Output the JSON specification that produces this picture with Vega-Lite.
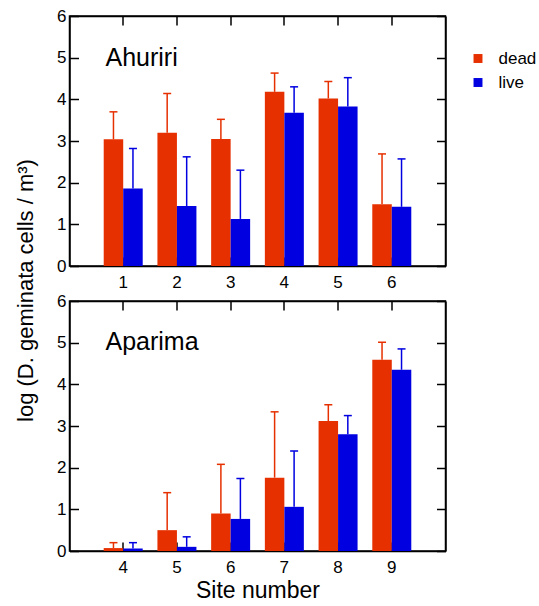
{
  "$schema": "https://vega.github.io/schema/vega-lite/v6.json",
  "padding": {"left": 12.5, "top": 6, "right": 2, "bottom": 5},
  "bounds": "flush",
  "spacing": 35,
  "datasets": {
    "ahuriri": [
      {"site": 1, "type": "dead", "mean": 3.04, "upper": 3.70},
      {"site": 1, "type": "live", "mean": 1.86, "upper": 2.82},
      {"site": 2, "type": "dead", "mean": 3.20, "upper": 4.14},
      {"site": 2, "type": "live", "mean": 1.44, "upper": 2.62},
      {"site": 3, "type": "dead", "mean": 3.05, "upper": 3.52},
      {"site": 3, "type": "live", "mean": 1.13, "upper": 2.30},
      {"site": 4, "type": "dead", "mean": 4.18, "upper": 4.63},
      {"site": 4, "type": "live", "mean": 3.68, "upper": 4.30},
      {"site": 5, "type": "dead", "mean": 4.02, "upper": 4.43},
      {"site": 5, "type": "live", "mean": 3.83, "upper": 4.52},
      {"site": 6, "type": "dead", "mean": 1.48, "upper": 2.69},
      {"site": 6, "type": "live", "mean": 1.42, "upper": 2.57}
    ],
    "aparima": [
      {"site": 4, "type": "dead", "mean": 0.07, "upper": 0.20},
      {"site": 4, "type": "live", "mean": 0.06, "upper": 0.20},
      {"site": 5, "type": "dead", "mean": 0.50, "upper": 1.40},
      {"site": 5, "type": "live", "mean": 0.10, "upper": 0.34},
      {"site": 6, "type": "dead", "mean": 0.90, "upper": 2.08},
      {"site": 6, "type": "live", "mean": 0.77, "upper": 1.74},
      {"site": 7, "type": "dead", "mean": 1.76, "upper": 3.34},
      {"site": 7, "type": "live", "mean": 1.06, "upper": 2.40},
      {"site": 8, "type": "dead", "mean": 3.12, "upper": 3.51},
      {"site": 8, "type": "live", "mean": 2.80, "upper": 3.25},
      {"site": 9, "type": "dead", "mean": 4.59, "upper": 5.01},
      {"site": 9, "type": "live", "mean": 4.35, "upper": 4.85}
    ]
  },
  "config": {
    "font": "Liberation Sans",
    "view": {"stroke": "black", "strokeWidth": 1.5},
    "axis": {
      "domainColor": "black", "domainWidth": 1.5,
      "tickColor": "black", "tickWidth": 1.5, "tickSize": -9,
      "labelColor": "black", "labelFontSize": 17, "labelFont": "Liberation Sans",
      "titleColor": "black", "titleFont": "Liberation Sans", "titleFontWeight": "normal",
      "grid": false
    },
    "legend": {
      "labelFontSize": 17, "labelColor": "black", "labelFont": "Liberation Sans"
    },
    "title": {"color": "black", "font": "Liberation Sans", "fontWeight": "normal", "fontSize": 25}
  },
  "resolve": {"legend": {"color": "independent"}},
  "vconcat": [
    {
      "width": 376, "height": 250,
      "title": {"text": "Ahuriri", "anchor": "start", "frame": "group", "offset": -84, "dx": 36, "baseline": "alphabetic"},
      "data": {"name": "ahuriri"},
      "layer": [
        {
          "mark": {"type": "bar"},
          "encoding": {
            "x": {"field": "site", "type": "ordinal", "scale": {"paddingInner": 0.274, "paddingOuter": 0.637},
                  "axis": {"orient": "bottom", "title": null, "labelAngle": 0, "labelPadding": 17}},
            "xOffset": {"field": "type", "type": "nominal", "sort": ["dead", "live"]},
            "y": {"field": "mean", "type": "quantitative", "scale": {"domain": [0, 6]},
                  "axis": {"orient": "left", "values": [0, 1, 2, 3, 4, 5, 6], "labelPadding": 12.5,
                           "title": "log (D. geminata cells / m³)", "titleFontSize": 22,
                           "titleY": 274, "titleX": -32.5}},
            "color": {"field": "type", "type": "nominal",
                      "scale": {"domain": ["dead", "live"], "range": ["#E63000", "#0000E0"]},
                      "legend": {"orient": "none", "legendX": 400, "legendY": 34, "title": null,
                                 "symbolType": "square", "symbolSize": 80, "symbolStrokeWidth": 0,
                                 "symbolOpacity": 1, "padding": 0, "rowPadding": 6, "labelOffset": 12}}
          }
        },
        {
          "mark": {"type": "rule", "strokeWidth": 1.5, "opacity": 1},
          "encoding": {
            "x": {"field": "site", "type": "ordinal",
                  "axis": {"orient": "top", "title": null, "labels": false}},
            "xOffset": {"field": "type", "type": "nominal", "sort": ["dead", "live"]},
            "y": {"field": "mean", "type": "quantitative",
                  "axis": {"orient": "right", "title": null, "labels": false, "values": [0, 1, 2, 3, 4, 5, 6]}},
            "y2": {"field": "upper"},
            "color": {"field": "type", "type": "nominal"}
          }
        },
        {
          "mark": {"type": "tick", "thickness": 1.5, "size": 8, "opacity": 1},
          "encoding": {
            "x": {"field": "site", "type": "ordinal", "axis": null},
            "xOffset": {"field": "type", "type": "nominal", "sort": ["dead", "live"]},
            "y": {"field": "upper", "type": "quantitative", "axis": null},
            "color": {"field": "type", "type": "nominal"}
          }
        }
      ]
    },
    {
      "width": 376, "height": 250,
      "title": {"text": "Aparima", "anchor": "start", "frame": "group", "offset": -82.5, "dx": 36, "baseline": "alphabetic"},
      "data": {"name": "aparima"},
      "layer": [
        {
          "mark": {"type": "bar"},
          "encoding": {
            "x": {"field": "site", "type": "ordinal", "scale": {"paddingInner": 0.274, "paddingOuter": 0.637},
                  "axis": {"orient": "bottom", "title": "Site number", "titleFontSize": 23, "titlePadding": 4,
                           "labelAngle": 0, "labelPadding": 17}},
            "xOffset": {"field": "type", "type": "nominal", "sort": ["dead", "live"]},
            "y": {"field": "mean", "type": "quantitative", "scale": {"domain": [0, 6]},
                  "axis": {"orient": "left", "values": [0, 1, 2, 3, 4, 5, 6], "labelPadding": 12.5, "title": null}},
            "color": {"field": "type", "type": "nominal",
                      "scale": {"domain": ["dead", "live"], "range": ["#E63000", "#0000E0"]},
                      "legend": null}
          }
        },
        {
          "mark": {"type": "rule", "strokeWidth": 1.5, "opacity": 1},
          "encoding": {
            "x": {"field": "site", "type": "ordinal",
                  "axis": {"orient": "top", "title": null, "labels": false}},
            "xOffset": {"field": "type", "type": "nominal", "sort": ["dead", "live"]},
            "y": {"field": "mean", "type": "quantitative",
                  "axis": {"orient": "right", "title": null, "labels": false, "values": [0, 1, 2, 3, 4, 5, 6]}},
            "y2": {"field": "upper"},
            "color": {"field": "type", "type": "nominal", "legend": null}
          }
        },
        {
          "mark": {"type": "tick", "thickness": 1.5, "size": 8, "opacity": 1},
          "encoding": {
            "x": {"field": "site", "type": "ordinal", "axis": null},
            "xOffset": {"field": "type", "type": "nominal", "sort": ["dead", "live"]},
            "y": {"field": "upper", "type": "quantitative", "axis": null},
            "color": {"field": "type", "type": "nominal", "legend": null}
          }
        }
      ]
    }
  ]
}
